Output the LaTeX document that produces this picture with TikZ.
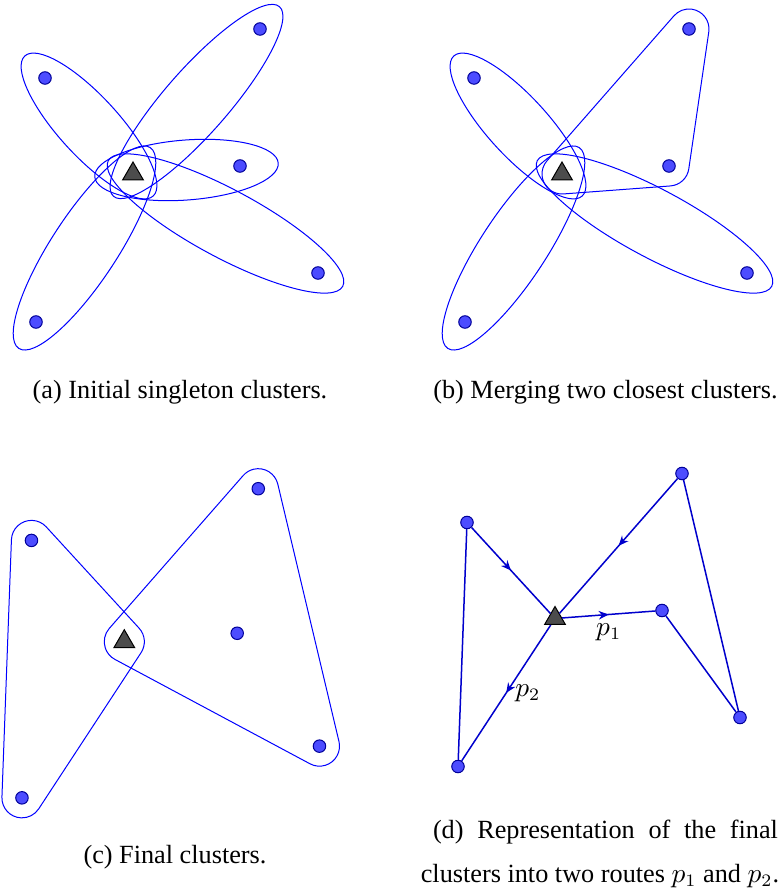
\documentclass[tikz,border=0pt]{standalone}
\usepackage[no-math]{fontspec}
\setmainfont{Liberation Serif}
\usetikzlibrary{shapes.geometric,arrows.meta,positioning,calc,backgrounds,decorations.markings}

\begin{document}
\begin{tikzpicture}[
    x=0.4pt, y=0.4pt,
    every node/.style={font=\fontsize{10.5}{12.6}\selectfont},
    customer/.style={circle, draw=blue!60!black, fill=blue!70, line width=0.4pt, minimum size=5pt, inner sep=0pt},
    depot/.style={regular polygon, regular polygon sides=3, draw=black, fill=black!70, line width=0.4pt, minimum size=9.6pt, inner sep=0pt},
    cluster/.style={draw=blue, line width=0.4pt},
    route/.style={draw=blue!80!black, line width=0.6pt},
    midarrow/.style={postaction={decorate}, decoration={markings, mark=at position 0.5 with {\arrow{Stealth[length=4pt, width=3.4pt]}}}}
  ]
  \useasboundingbox (0,0) rectangle (784,894);

  % (a) Initial singleton clusters
  \begin{scope}[shift={(133,720)}]
    \node[depot] (a0) at (0,0) {};
    \foreach \i/\pos in {1/{(-88,96)}, 2/{(127,145)}, 3/{(107,8)}, 4/{(185,-99)}, 5/{(-97,-148)}}
      \node[customer] (a\i) at \pos {};
    \begin{scope}[on background layer]
      \foreach \ang/\cx/\cy/\ra/\rb in {132.5/-44/48/95/30, 48.8/63.5/72.5/126/32, 4.3/53.5/4/92/30, -28.2/92.5/-49.5/133/34, -123.2/-48.5/-74/120/33}
        \draw[cluster, rotate around={\ang:(\cx,\cy)}] (\cx,\cy) ellipse [x radius=\ra, y radius=\rb];
    \end{scope}
  \end{scope}

  % (b) Merging two closest clusters
  \begin{scope}[shift={(562,720)}]
    \node[depot] (b0) at (0,0) {};
    \foreach \i/\pos in {1/{(-88,96)}, 2/{(127,145)}, 3/{(107,8)}, 4/{(185,-99)}, 5/{(-97,-148)}}
      \node[customer] (b\i) at \pos {};
    \begin{scope}[on background layer]
      \foreach \ang/\cx/\cy/\ra/\rb in {132.5/-44/48/95/30, -28.2/92.5/-49.5/133/34, -123.2/-48.5/-74/120/33}
        \draw[cluster, rotate around={\ang:(\cx,\cy)}] (\cx,\cy) ellipse [x radius=\ra, y radius=\rb];
      % merged cluster: depot, b3, b2
      \draw[cluster] (138.79:20) arc[start angle=138.79, end angle=274.28, radius=20]
        -- ++(107,8) arc[start angle=274.28, end angle=351.69, radius=20]
        -- ++(20,137) arc[start angle=351.69, end angle=498.79, radius=20] -- cycle;
    \end{scope}
  \end{scope}

  % (c) Final clusters
  \begin{scope}[shift={(124.3,252.3)}, scale=1.055]
    \node[depot] (c0) at (0,0) {};
    \foreach \i/\pos in {1/{(-88,96)}, 2/{(127,145)}, 3/{(107,8)}, 4/{(185,-99)}, 5/{(-97,-148)}}
      \node[customer] (c\i) at \pos {};
    \begin{scope}[on background layer]
      % left cluster: depot, c1, c5
      \draw[cluster] (-33.24:19) arc[start angle=-33.24, end angle=42.50, radius=19]
        -- ++(-88,96) arc[start angle=42.50, end angle=177.89, radius=19]
        -- ++(-9,-244) arc[start angle=177.89, end angle=326.76, radius=19] -- cycle;
      % right cluster: depot, c4, c2
      \draw[cluster] (138.79:19) arc[start angle=138.79, end angle=241.85, radius=19]
        -- ++(185,-99) arc[start angle=241.85, end angle=373.37, radius=19]
        -- ++(-58,244) arc[start angle=13.37, end angle=138.79, radius=19] -- cycle;
    \end{scope}
  \end{scope}

  % (d) Routes
  \begin{scope}[shift={(555,275.5)}]
    \node[depot] (d0) at (0,0) {};
    \foreach \i/\pos in {1/{(-88,96)}, 2/{(127,145)}, 3/{(107,8)}, 4/{(185,-99)}, 5/{(-97,-148)}}
      \node[customer] (d\i) at \pos {};
    \draw[route, midarrow] (d0) -- node[below] (lp1) {$p_1$} (d3);
    \draw[route] (d3) -- (d4);
    \draw[route] (d4) -- (d2);
    \draw[route, midarrow] (d2) -- (d0);
    \draw[route, midarrow] (d0) -- node[right] (lp2) {$p_2$} (d5);
    \draw[route] (d5) -- (d1);
    \draw[route, midarrow] (d1) -- (d0);
  \end{scope}

  % Captions
  \node (capa) at (180,502) {(a) Initial singleton clusters.};
  \node (capb) at (605.5,502) {(b) Merging two closest clusters.};
  \node (capc) at (175,37) {(c) Final clusters.};
  \node (capd1) at (605.5,62) {\makebox[138pt][s]{(d) Representation of the final}};
  \node (capd2) at (600,18) {clusters into two routes $p_1$ and $p_2$.};
\end{tikzpicture}
\end{document}
